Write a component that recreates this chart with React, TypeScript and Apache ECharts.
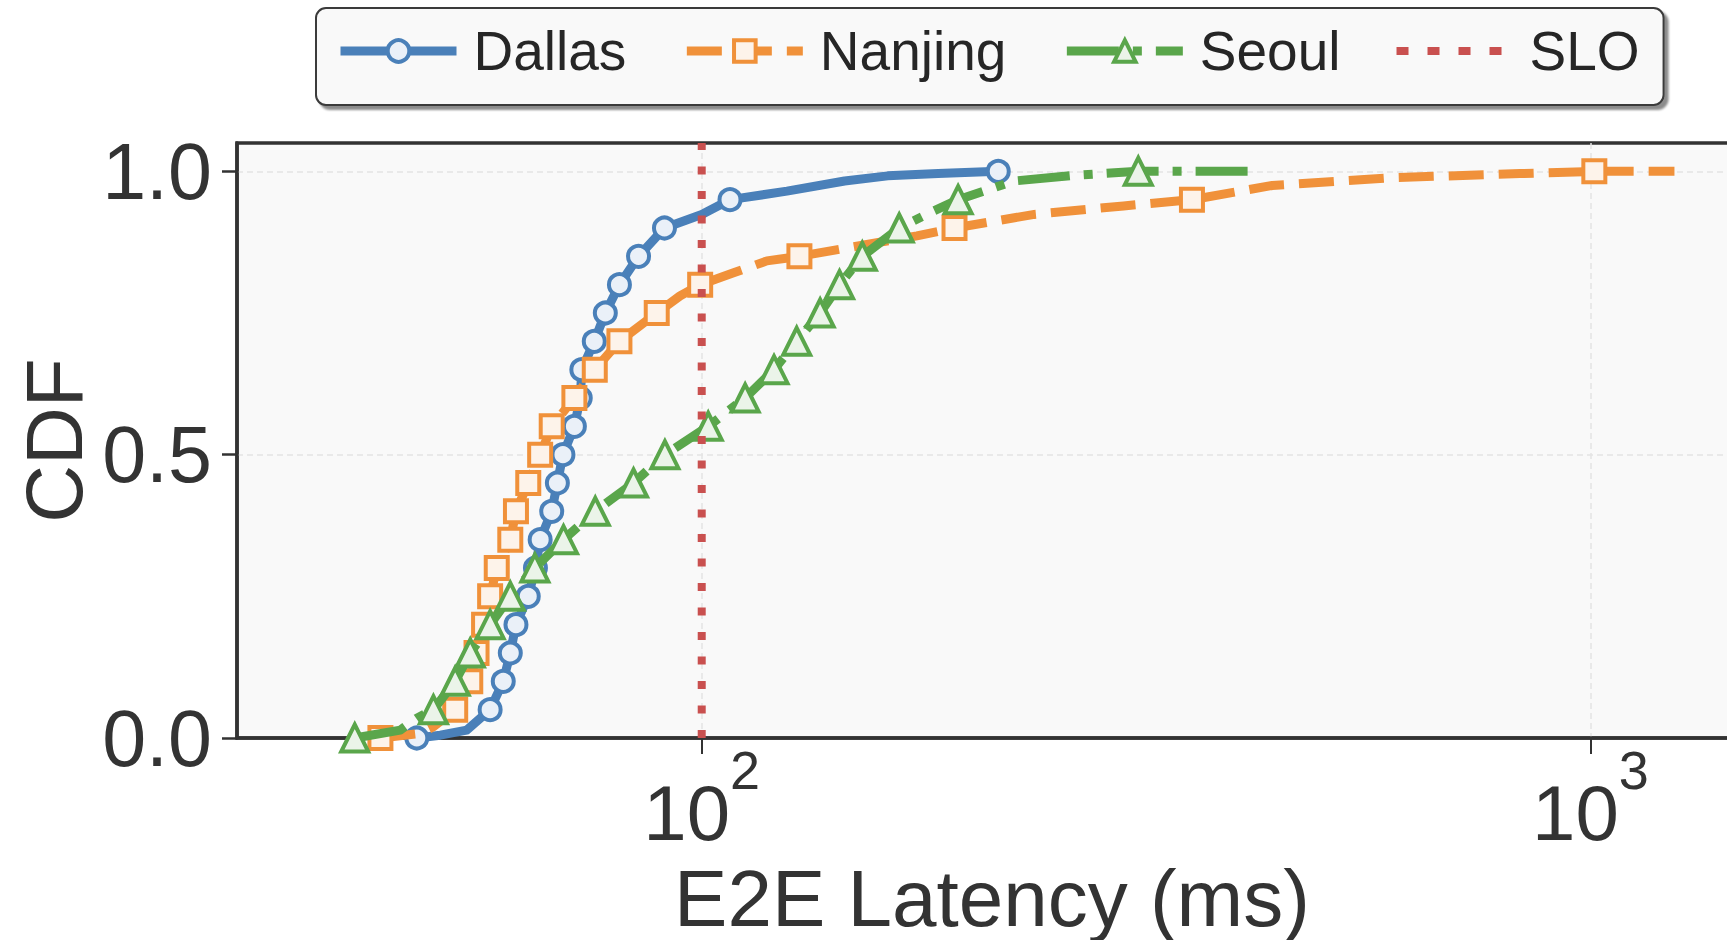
import React, { useEffect, useRef } from "react";
import * as echarts from "echarts";

// ---------- data (latency in ms, CDF value, 1 = point carries a marker) ----------
const dallasMs = [47.8, 50.8, 54.4, 57.8, 59.8, 60.9, 61.8, 63.8, 65.0, 65.8, 67.8, 68.8, 69.8, 71.9, 73.0, 73.3, 75.7, 77.9, 80.8, 84.9, 90.8, 100, 107.6, 124.7, 144.8, 161.9, 184.5, 215.6];
const dallasCdf = [0, 0.005, 0.014, 0.05, 0.1, 0.15, 0.2, 0.25, 0.3, 0.35, 0.4, 0.45, 0.5, 0.55, 0.6, 0.65, 0.7, 0.75, 0.8, 0.85, 0.9, 0.924, 0.95, 0.965, 0.983, 0.992, 0.996, 1.0];
const dallasMark = [1, 0, 0, 1, 1, 1, 1, 1, 1, 1, 1, 1, 1, 1, 1, 1, 1, 1, 1, 1, 1, 0, 1, 0, 0, 0, 0, 1];

const nanjingMs = [43.5, 48.2, 49.9, 52.8, 54.9, 55.8, 56.9, 57.8, 58.8, 60.9, 61.8, 63.8, 65.8, 67.8, 71.9, 75.8, 80.8, 89.0, 94.5, 99.6, 108.6, 118.4, 128.8, 153.4, 174.6, 192.5, 236.7, 298.3, 356.1, 438.5, 604.3, 833, 1010, 1243];
const nanjingCdf = [0, 0.008, 0.02, 0.05, 0.1, 0.15, 0.2, 0.25, 0.3, 0.35, 0.4, 0.45, 0.5, 0.55, 0.6, 0.65, 0.7, 0.75, 0.78, 0.8, 0.821, 0.842, 0.85, 0.871, 0.886, 0.9, 0.924, 0.939, 0.95, 0.975, 0.989, 0.996, 1.0, 1.0];
const nanjingMark = [1, 0, 0, 1, 1, 1, 1, 1, 1, 1, 1, 1, 1, 1, 1, 1, 1, 1, 0, 1, 0, 0, 1, 0, 0, 1, 0, 0, 1, 0, 0, 0, 1, 0];

const seoulMs = [40.7, 45.8, 47.8, 49.9, 52.8, 54.9, 57.8, 60.9, 64.9, 69.9, 75.9, 83.8, 90.9, 101.7, 111.9, 120.6, 127.9, 135.9, 142.9, 151.6, 166.8, 182.3, 194.3, 224.8, 262.4, 309.9, 413.9];
const seoulCdf = [0, 0.014, 0.035, 0.05, 0.1, 0.15, 0.2, 0.25, 0.3, 0.35, 0.4, 0.45, 0.5, 0.55, 0.6, 0.65, 0.7, 0.75, 0.8, 0.85, 0.9, 0.93, 0.95, 0.983, 0.993, 1.0, 1.0];
const seoulMark = [1, 0, 0, 1, 1, 1, 1, 1, 1, 1, 1, 1, 1, 1, 1, 1, 1, 1, 1, 1, 1, 0, 1, 0, 0, 1, 0];

const sloMs = [100, 100];
const sloCdf = [0, 1.05];

const seriesNames = ["Dallas", "Nanjing", "Seoul", "SLO"];
const xTickValues = [100, 1000];
const yTickValues = [0, 0.5, 1.0];

// ---------- styles ----------
const BLUE = "#4a80b9";
const ORANGE = "#f0913a";
const GREEN = "#5aa64b";
const RED = "#c9504f";
const FACE_BLUE = "#eaf0f8";
const FACE_ORANGE = "#fdf3ea";
const FACE_GREEN = "#ebf4e9";
const TEXT = "#333333";
const FONT = "'Liberation Sans', Arial, Helvetica, sans-serif";

function buildData(ms: number[], cdf: number[], mark: number[]) {
  return ms.map((m, i) =>
    mark[i] ? { value: [m, cdf[i]] } : { value: [m, cdf[i]], symbol: "none" }
  );
}

const LW = 9;
const MBW = 4;
const DASHED = [35, 15];
const DASHDOT = [52, 14, 9, 14];
const DOTTED = [8, 16.5];

// SLO legend icon: four small squares, bbox 116 x 25
const SLO_ICON =
  "path://M0,0M116,25M0,8.5h12v8h-12zM31,8.5h12v8h-12zM62,8.5h12v8h-12zM93,8.5h12v8h-12z";

export default function App() {
  const ref = useRef<HTMLDivElement>(null);

  useEffect(() => {
    if (!ref.current) return;
    const chart = echarts.init(ref.current, null, { renderer: "svg" });
    const option: any = {
      animation: false,
      backgroundColor: "#ffffff",
      textStyle: { fontFamily: FONT, color: TEXT },
      grid: {
        left: 237,
        top: 143,
        width: 1510,
        height: 595,
        show: true,
        backgroundColor: "#f9f9f9",
        borderColor: "#333333",
        borderWidth: 3.5,
        containLabel: false,
        outerBoundsMode: "none",
      },
      legend: {
        left: 316,
        top: 8,
        orient: "horizontal",
        padding: [13, 24, 24, 20],
        itemWidth: 116,
        itemHeight: 27,
        itemGap: 56,
        backgroundColor: "#f9f9f9",
        borderColor: "#3a3a3a",
        borderWidth: 2,
        borderRadius: 10,
        shadowColor: "rgba(0,0,0,0.45)",
        shadowBlur: 2,
        shadowOffsetX: 4,
        shadowOffsetY: 4,
        selectedMode: false,
        textStyle: {
          fontFamily: FONT,
          fontSize: 55,
          lineHeight: 60,
          color: "#262626",
          padding: [0, 0, 0, 12],
        },
        data: [
          {
            name: seriesNames[0],
            lineStyle: { color: BLUE, width: LW, type: "solid" },
            itemStyle: { color: FACE_BLUE, borderColor: BLUE, borderWidth: MBW },
          },
          {
            name: seriesNames[1],
            lineStyle: { color: ORANGE, width: LW, type: DASHED },
            itemStyle: { color: FACE_ORANGE, borderColor: ORANGE, borderWidth: MBW },
          },
          {
            name: seriesNames[2],
            lineStyle: { color: GREEN, width: LW, type: DASHDOT },
            itemStyle: { color: FACE_GREEN, borderColor: GREEN, borderWidth: MBW },
          },
          {
            name: seriesNames[3],
            icon: SLO_ICON,
            itemStyle: { color: RED, borderWidth: 0 },
          },
        ],
      },
      xAxis: {
        type: "log",
        logBase: 10,
        min: 30,
        max: 1500,
        name: "E2E Latency (ms)",
        nameLocation: "middle",
        nameGap: 120,
        nameMoveOverlap: false,
        nameTextStyle: { fontFamily: FONT, fontSize: 80, lineHeight: 80, color: TEXT },
        axisLine: { show: true, lineStyle: { color: "#333333", width: 3.5 } },
        axisTick: {
          show: true,
          length: 16,
          customValues: xTickValues,
          lineStyle: { color: "#333333", width: 2 },
        },
        axisLabel: {
          show: true,
          customValues: xTickValues,
          margin: 5,
          formatter: (v: number) => `{b|10}{s|${Math.round(Math.log10(v))}}`,
          rich: {
            b: { fontFamily: FONT, fontSize: 78, lineHeight: 140, color: TEXT, verticalAlign: "middle" },
            s: { fontFamily: FONT, fontSize: 54, lineHeight: 56, color: TEXT, verticalAlign: "top" },
          },
        },
        splitLine: { show: true, lineStyle: { color: "#e3e3e3", width: 1.5, type: [6, 4] } },
        minorTick: { show: false },
        minorSplitLine: { show: false },
      },
      yAxis: {
        type: "value",
        min: 0,
        max: 1.05,
        name: "CDF",
        nameLocation: "middle",
        nameGap: 143,
        nameMoveOverlap: false,
        nameTextStyle: { fontFamily: FONT, fontSize: 80, lineHeight: 80, color: TEXT },
        axisLine: { show: true, lineStyle: { color: "#333333", width: 3.5 } },
        axisTick: {
          show: true,
          length: 15,
          customValues: yTickValues,
          lineStyle: { color: "#333333", width: 2.5 },
        },
        axisLabel: {
          show: true,
          customValues: yTickValues,
          margin: 25,
          fontFamily: FONT,
          fontSize: 79,
          color: TEXT,
          formatter: (v: number) => v.toFixed(1),
        },
        splitLine: { show: true, lineStyle: { color: "#e3e3e3", width: 1.5, type: [6, 4] } },
      },
      series: [
        {
          name: seriesNames[0],
          type: "line",
          data: buildData(dallasMs, dallasCdf, dallasMark),
          symbol: "circle",
          symbolSize: 21,
          lineStyle: { color: BLUE, width: LW, type: "solid", join: "round" },
          itemStyle: { color: FACE_BLUE, borderColor: BLUE, borderWidth: MBW },
          emphasis: { disabled: true },
          z: 3,
        },
        {
          name: seriesNames[1],
          type: "line",
          data: buildData(nanjingMs, nanjingCdf, nanjingMark),
          symbol: "rect",
          symbolSize: 22,
          lineStyle: { color: ORANGE, width: LW, type: DASHED, join: "round" },
          itemStyle: { color: FACE_ORANGE, borderColor: ORANGE, borderWidth: MBW },
          emphasis: { disabled: true },
          z: 4,
        },
        {
          name: seriesNames[2],
          type: "line",
          data: buildData(seoulMs, seoulCdf, seoulMark),
          symbol: "triangle",
          symbolSize: 27,
          lineStyle: { color: GREEN, width: LW, type: DASHDOT, join: "round" },
          itemStyle: { color: FACE_GREEN, borderColor: GREEN, borderWidth: MBW },
          emphasis: { disabled: true },
          z: 5,
        },
        {
          name: seriesNames[3],
          type: "line",
          data: sloMs.map((m, i) => [m, sloCdf[i]]),
          symbol: "none",
          lineStyle: { color: RED, width: 8, type: DOTTED },
          itemStyle: { color: RED },
          emphasis: { disabled: true },
          z: 6,
        },
      ],
    };
    chart.setOption(option);
    return () => chart.dispose();
  }, []);

  return (
    <div
      ref={ref}
      style={{ position: "absolute", left: 0, top: 0, width: 1727, height: 940 }}
    />
  );
}
